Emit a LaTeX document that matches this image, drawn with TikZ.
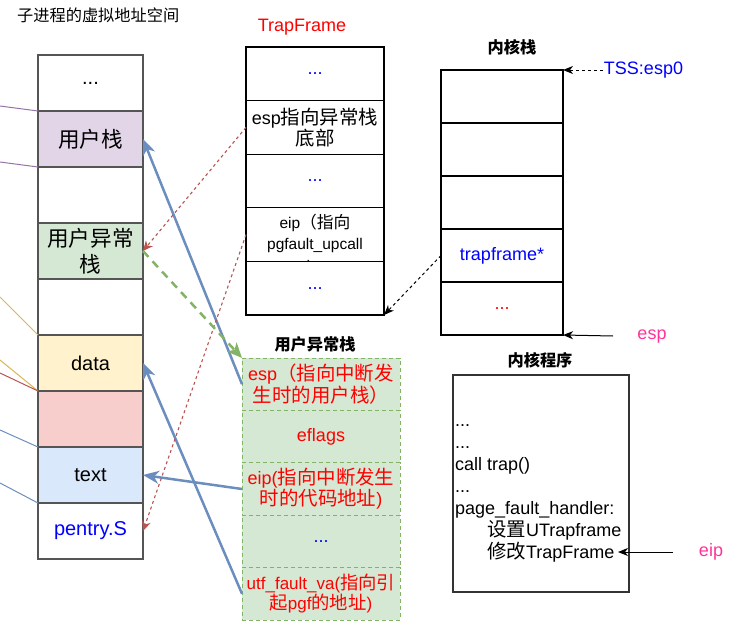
\documentclass[tikz,border=0pt]{standalone}
\usepackage{fontspec}
\setmainfont{Liberation Sans}
\newfontfamily\cjk[Scale=1.08]{Noto Sans CJK SC}
\usepackage{tikz}
\usetikzlibrary{arrows.meta, positioning}
\definecolor{vmgray}{HTML}{555555}
\definecolor{vmpurple}{HTML}{9673a6}
\definecolor{vmpurplefill}{HTML}{e1d5e7}
\definecolor{vmgreen}{HTML}{82b366}
\definecolor{vmgreenfill}{HTML}{d5e8d4}
\definecolor{vmyellow}{HTML}{d6b656}
\definecolor{vmyellowfill}{HTML}{fff2cc}
\definecolor{vmred}{HTML}{b85450}
\definecolor{vmredfill}{HTML}{f8cecc}
\definecolor{vmblue}{HTML}{6c8ebf}
\definecolor{vmbluefill}{HTML}{dae8fc}
\definecolor{txtblue}{HTML}{0000FF}
\definecolor{txtred}{HTML}{FF0000}
\definecolor{txtpink}{HTML}{FF3399}

\begin{document}
\begin{tikzpicture}[
    x=1pt, y=-1pt,
    vmcell/.style={rectangle, draw=vmgray, line width=1.5pt, fill=white, minimum width=105pt, minimum height=56pt, inner sep=0pt, outer sep=0pt, align=center, font=\fontsize{20}{26}\selectfont},
    tfcell/.style={rectangle, draw=black, line width=1.1pt, fill=white, minimum width=138pt, minimum height=53.6pt, inner sep=0pt, outer sep=0pt, align=center, font=\fontsize{18}{20}\selectfont},
    kscell/.style={tfcell, minimum width=122pt, minimum height=53pt},
    uxcell/.style={rectangle, draw=vmgreen, dash pattern=on 4pt off 3pt, line width=1pt, fill=vmgreenfill, minimum width=158pt, minimum height=52.4pt, inner sep=0pt, outer sep=0pt, align=center, text=txtred, font=\fontsize{18}{20}\selectfont},
    boxtitle/.style={inner sep=1pt, font=\fontsize{15}{18}\selectfont\bfseries},
    lbl/.style={inner sep=1pt, font=\fontsize{18}{20}\selectfont},
    seg/.style={line width=1pt},
    blueptr/.style={-{Stealth[length=16pt, width=13pt, inset=5pt]}, line width=2.5pt, vmblue},
    redptr/.style={-{Stealth[length=10pt, width=9pt, inset=3pt]}, line width=1.1pt, vmred, dash pattern=on 3pt off 3pt},
    greenptr/.style={-{Stealth[length=15pt, width=13pt, inset=4pt]}, line width=2.5pt, vmgreen, dash pattern=on 8pt off 6pt},
    dashptr/.style={-{Stealth[length=10pt, width=8pt, inset=3pt]}, line width=1pt, black, dash pattern=on 3pt off 3pt},
    plainptr/.style={-{Stealth[length=10pt, width=8pt, inset=3pt]}, line width=1pt, black}
]
\useasboundingbox (0,0) rectangle (742,640);

\node[anchor=west, inner sep=1pt, font=\fontsize{15}{18}\selectfont] (vmtitle) at (16,15) {{\cjk 子进程的虚拟地址空间}};

\coordinate (pa) at (0,106);
\coordinate (pb) at (0,162);
\coordinate (ya) at (0,297);
\coordinate (yb) at (0,360);
\coordinate (ra) at (0,373);
\coordinate (ba) at (0,430);
\coordinate (bb) at (0,483);

\node[vmcell] (vmtop) at (90.5,83) {...};
\node[vmcell, below=0pt of vmtop, fill=vmpurplefill] (ustack) {{\cjk 用户栈}};
\node[vmcell, below=0pt of ustack] (gapa) {};
\node[vmcell, below=0pt of gapa, fill=vmgreenfill] (uxstack) {{\cjk 用户异常}\\{\cjk 栈}};
\node[vmcell, below=0pt of uxstack] (gapb) {};
\node[vmcell, below=0pt of gapb, fill=vmyellowfill] (dataseg) {data};
\node[vmcell, below=0pt of dataseg, fill=vmredfill] (redseg) {};
\node[vmcell, below=0pt of redseg, fill=vmbluefill] (textseg) {text};
\node[vmcell, below=0pt of textseg, text=txtblue] (pentry) {pentry.S};

\draw[seg, vmpurple] (pa) -- (ustack.north west);
\draw[seg, vmpurple] (pb) -- (ustack.south west);
\draw[seg, vmyellow] (ya) -- (dataseg.north west);
\draw[seg, vmyellow] (yb) -- (redseg.north west);
\draw[seg, vmred] (ra) -- (redseg.north west);
\draw[seg, vmblue] (ba) -- (textseg.north west);
\draw[seg, vmblue] (bb) -- (textseg.south west);

\node[lbl, text=txtred] (tftitle) at (302,27) {TrapFrame};
\node[tfcell, text=txtblue] (tf1) at (315,73.8) {...};
\node[tfcell, below=0pt of tf1] (tf2) {esp{\cjk 指向异常栈}\\{\cjk 底部}};
\node[tfcell, below=0pt of tf2, text=txtblue] (tf3) {...};
\node[tfcell, below=0pt of tf3] (tf4) {};
\node[align=center, inner sep=0pt, font=\fontsize{15.5}{21}\selectfont] (tfeip) at (315,245) {eip{\cjk （指向}\\pgfault\_upcall\\[4pt]{\cjk ）}};
\node[tfcell, below=0pt of tf4, text=txtblue] (tf5) {...};

\node[boxtitle] (kstitle) at (512,47) {{\cjk 内核栈}};
\node[kscell] (ks1) at (502,96.5) {};
\node[kscell, below=0pt of ks1] (ks2) {};
\node[kscell, below=0pt of ks2] (ks3) {};
\node[kscell, below=0pt of ks3, text=txtblue] (ks4) {trapframe*};
\node[kscell, below=0pt of ks4, text=txtred] (ks5) {...};
\node[lbl, text=txtblue] (tss) at (643.5,70) {TSS:esp0};
\node[lbl, text=txtpink] (esplbl) at (652,337) {esp};
\coordinate (espfrom) at (613,336);

\node[boxtitle] (uxtitle) at (315,344) {{\cjk 用户异常栈}};
\node[uxcell] (ux1) at (321,384.2) {esp{\cjk （指向中断发}\\{\cjk 生时的用户栈）}};
\node[uxcell, below=0pt of ux1] (ux2) {eflags};
\node[uxcell, below=0pt of ux2] (ux3) {eip({\cjk 指向中断发生}\\{\cjk 时的代码地址})};
\node[uxcell, below=0pt of ux3, text=txtblue] (ux4) {...};
\node[uxcell, below=0pt of ux4, font=\fontsize{17}{19}\selectfont] (ux5) {utf\_fault\_va({\cjk 指向引}\\{\cjk 起}pgf{\cjk 的地址})};

\node[boxtitle] (kptitle) at (540,360) {{\cjk 内核程序}};
\node[rectangle, draw=black!80, line width=1.2pt, minimum width=176pt, minimum height=217pt] (kprog) at (541,483.5) {};
\node[anchor=west, inner sep=0pt, align=left, font=\fontsize{18}{22}\selectfont] (kptext) at (455,493) {...\\...\\call trap()\\...\\page\_fault\_handler:\\\hspace*{32pt}{\cjk 设置}UTrapframe\\\hspace*{32pt}{\cjk 修改}TrapFrame};
\node[lbl, text=txtpink] (eiplbl) at (711,552) {eip};
\coordinate (eipfrom) at (673,552);
\coordinate (eipto) at (618,552);

\draw[blueptr] (ux1.west) -- (ustack.east);
\draw[blueptr] (ux3.west) -- (textseg.east);
\draw[blueptr] (ux5.west) -- (dataseg.east);
\draw[redptr] (tf2.west) -- (uxstack.east);
\draw[redptr] (tf4.west) -- (pentry.east);
\draw[greenptr] (uxstack.east) -- (ux1.north west);
\draw[dashptr] (ks4.west) -- (tf5.south east);
\draw[dashptr] (tss.west) -- (ks1.north east);
\draw[plainptr] (espfrom) -- (ks5.south east);
\draw[plainptr] (eipfrom) -- (eipto);
\end{tikzpicture}
\end{document}
